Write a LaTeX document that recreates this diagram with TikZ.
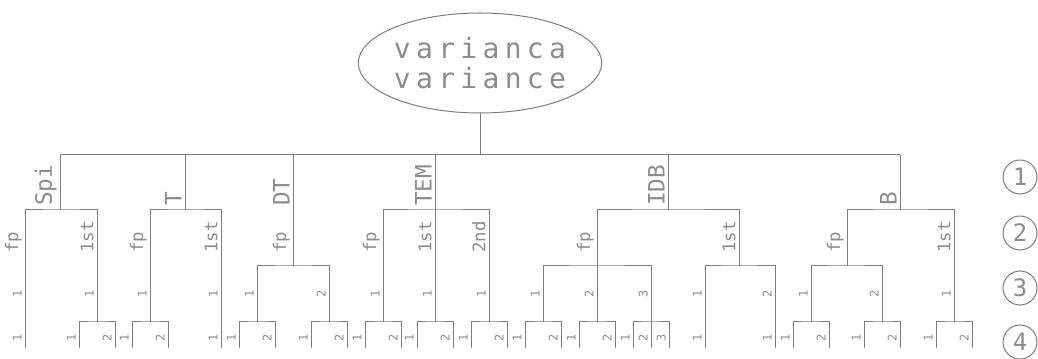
\documentclass[tikz,border=0pt]{standalone}
\usepackage{fontspec}
\newfontfamily\cadfont{DejaVu Sans Mono}
\newfontfamily\cadwide[LetterSpace=19]{DejaVu Sans Mono}
\usetikzlibrary{shapes.geometric,calc}
\definecolor{ink}{RGB}{125,125,125}
\definecolor{soft}{RGB}{140,140,140}
\tikzset{
  every picture/.style={color=ink, line width=0.75pt},
  oval/.style={ellipse, draw=ink, minimum width=180pt, minimum height=75pt, inner sep=0pt, align=center, text=soft, font=\cadwide\fontsize{21}{22.5}\selectfont},
  tag/.style={rotate=90, anchor=south west, inner sep=0.6pt, text=soft},
  tagA/.style={tag, font=\cadfont\fontsize{17}{17}\selectfont},
  tagB/.style={tag, font=\cadfont\fontsize{13}{13}\selectfont},
  tagC/.style={tag, font=\cadfont\fontsize{9}{9}\selectfont},
  levelmark/.style={circle, draw=ink, minimum size=25.5pt, inner sep=0pt, text=soft, font=\cadfont\fontsize{18}{18}\selectfont},
}

\begin{document}
\begin{tikzpicture}[x=0.75pt, y=-0.75pt]
  \useasboundingbox (0,0) rectangle (1038,359);
  % junctions of the tree, one per bar
  \coordinate (top) at (480,155);
  \foreach \n/\x/\y in {spi/60/210, t/185/210, dt/293/266, tem/435/210, idb/668/210, b/900/210,
      spi-fp/25/348, spi-1st/97/322, t-fp/150/322, t-1st/221/348, dt-1/257/322, dt-2/329/322,
      tem-fp/383/322, tem-1st/435/322, tem-2nd/489/322, idb-fp/597/266, idb-1st/739/266,
      b-fp/847/266, b-1st/954/322, idb-fp1/543/322, idb-fp2/597/322, idb-fp3/651/322,
      idb-1st1/705/348, idb-1st2/775/348, b-fp1/811/322, b-fp2/882/322}
    \coordinate (\n) at (\x,\y);

  \node[oval] (var) at (480,63) {varianca\\variance};
  \draw (var) -- (top);
  \draw (spi |- top) -- (b |- top);
  \foreach \n in {spi,t,dt,tem,idb,b}
    \draw (\n |- top) -- (\n);
  \foreach \l/\p/\r in {spi-fp/spi/spi-1st, t-fp/t/t-1st, dt-1/dt/dt-2, tem-fp/tem/tem-2nd,
      idb-fp/idb/idb-1st, b-fp/b/b-1st, idb-fp1/idb-fp/idb-fp3, idb-1st1/idb-1st/idb-1st2, b-fp1/b-fp/b-fp2}
    \draw (\l) |- (\p) -| (\r);
  \draw (tem) -- (tem-1st);
  \draw (idb-fp) -- (idb-fp2);

  % last level: pairs of short legs
  \foreach \j in {spi-1st, t-fp, dt-1, dt-2, tem-fp, tem-1st, tem-2nd, idb-fp1, idb-fp2, idb-fp3, b-fp1, b-fp2, b-1st} {
    \coordinate (\j-a) at ($(\j)+(-18,26)$);
    \coordinate (\j-b) at ($(\j)+(18,26)$);
    \draw (\j-a) |- (\j) -| (\j-b);
  }
  \coordinate (idb-fp3-m) at ($(idb-fp3)+(0,26)$);
  \draw (idb-fp3) -- (idb-fp3-m);

  % labels, left of each line
  \foreach \x/\t [count=\i] in {60/Spi, 185/T, 293/DT, 435/TEM, 668/IDB, 900/B}
    \node[tagA] (la\i) at (\x-2,207) {\t};
  \foreach \x/\t [count=\i] in {25/fp, 97/1st, 150/fp, 221/1st, 293/fp, 383/fp, 435/1st, 489/2nd,
      597/fp, 739/1st, 847/fp, 954/1st}
    \node[tagB] (lb\i) at (\x-2,254) {\t};
  \foreach \x/\t [count=\i] in {25/1, 97/1, 150/1, 221/1, 257/1, 329/2, 383/1, 435/1, 489/1,
      543/1, 597/2, 651/3, 705/1, 775/2, 811/1, 882/2, 954/1}
    \node[tagC] (lc\i) at (\x-2,299) {\t};
  \foreach \x/\t [count=\i] in {25/1, 79/1, 115/2, 132/1, 168/2, 221/1, 239/1, 275/2, 311/1, 347/2,
      365/1, 401/2, 417/1, 453/2, 471/1, 507/2, 525/1, 561/2, 579/1, 615/2, 633/1, 651/2, 669/3,
      705/1, 775/1, 793/1, 829/2, 864/1, 900/2, 936/1, 972/2}
    \node[tagC] (ld\i) at (\x-2,343) {\t};

  \foreach \k/\y in {1/177, 2/233, 3/288, 4/342}
    \node[levelmark] (lv\k) at (1020,\y) {\k};
\end{tikzpicture}
\end{document}
